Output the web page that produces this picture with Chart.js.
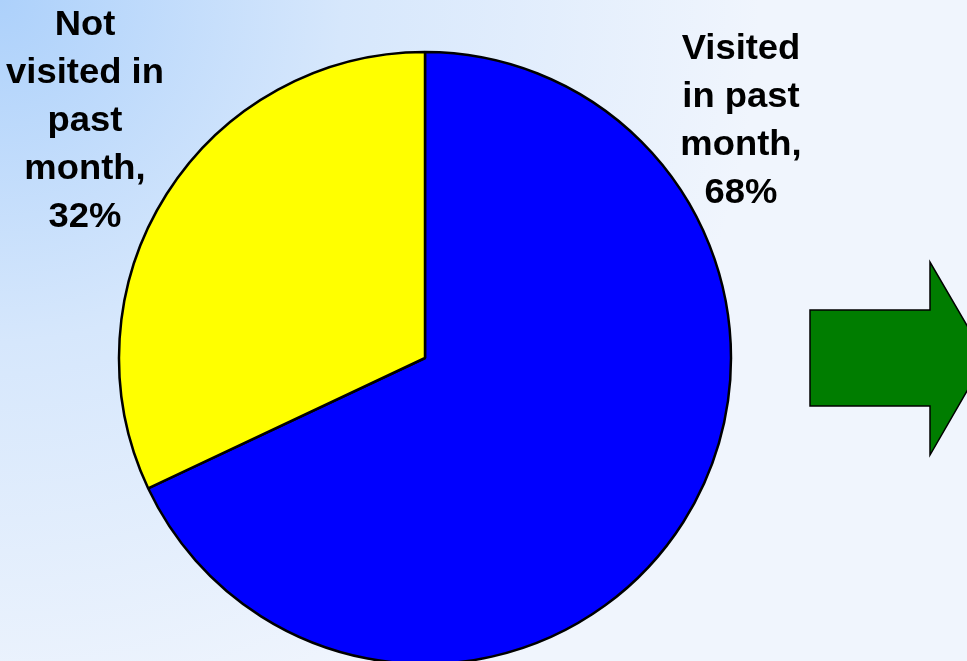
<!DOCTYPE html>
<html>
<head>
<meta charset="utf-8">
<script src="https://cdn.jsdelivr.net/npm/chart.js@4.4.1/dist/chart.umd.min.js"></script>
<style>
  html, body { margin: 0; padding: 0; overflow: hidden; }
  #wrap { width: 967px; height: 661px; }
</style>
</head>
<body>
<div id="wrap"><canvas id="pie"></canvas></div>
<script>
// survey split: share of people by last visit
const categories = ["Visited in past month", "Not visited in past month"];
const shares = [68, 32];
const sliceColors = ["#0000ff", "#ffff00"];
// label lines drawn next to each slice
const labelLines = [
  ["Visited", "in past", "month,"],
  ["Not", "visited in", "past", "month,"]
];

// slide backdrop: blue fading to white from the top-left corner
const backdrop = {
  id: "backdrop",
  beforeDraw(chart) {
    const ctx = chart.ctx;
    const w = chart.width, h = chart.height;
    const g = ctx.createRadialGradient(0, 0, 0, 0, 0, 760);
    g.addColorStop(0, "#add1fb");
    g.addColorStop(0.45, "#d6e7fc");
    g.addColorStop(1, "#f0f5fd");
    ctx.save();
    ctx.fillStyle = g;
    ctx.fillRect(0, 0, w, h);
    ctx.restore();
  }
};

// green block arrow on the right side
const arrow = {
  id: "arrow",
  afterDraw(chart) {
    const ctx = chart.ctx;
    ctx.save();
    ctx.beginPath();
    ctx.moveTo(810, 310);
    ctx.lineTo(930, 310);
    ctx.lineTo(930, 262);
    ctx.lineTo(986, 358);
    ctx.lineTo(930, 455);
    ctx.lineTo(930, 406);
    ctx.lineTo(810, 406);
    ctx.closePath();
    ctx.fillStyle = "#007d00";
    ctx.fill();
    ctx.lineWidth = 1.5;
    ctx.strokeStyle = "#000";
    ctx.stroke();
    ctx.restore();
  }
};

// category labels with the percentage on the last line
const sliceLabels = {
  id: "sliceLabels",
  afterDraw(chart) {
    const ctx = chart.ctx;
    const spots = [{ x: 741, y: 59 }, { x: 85, y: 35 }];
    ctx.save();
    ctx.fillStyle = "#000";
    ctx.textAlign = "center";
    ctx.textBaseline = "alphabetic";
    ctx.font = "bold 35px 'Liberation Sans', Arial, sans-serif";
    shares.forEach((v, i) => {
      const lines = labelLines[i].concat([v + "%"]);
      lines.forEach((t, k) => {
        ctx.save();
        ctx.translate(spots[i].x, spots[i].y + k * 48);
        ctx.scale(1.04, 1);
        ctx.fillText(t, 0, 0);
        ctx.restore();
      });
    });
    ctx.restore();
  }
};

new Chart(document.getElementById("pie"), {
  type: "pie",
  data: {
    labels: categories,
    datasets: [{
      data: shares,
      backgroundColor: sliceColors,
      borderColor: "#000",
      borderWidth: 2.5,
      radius: 306
    }]
  },
  options: {
    responsive: true,
    maintainAspectRatio: false,
    animation: false,
    layout: { padding: { top: 55, bottom: 0, left: 0, right: 117 } },
    plugins: {
      legend: { display: false },
      tooltip: { enabled: false }
    }
  },
  plugins: [backdrop, arrow, sliceLabels]
});
</script>
</body>
</html>
